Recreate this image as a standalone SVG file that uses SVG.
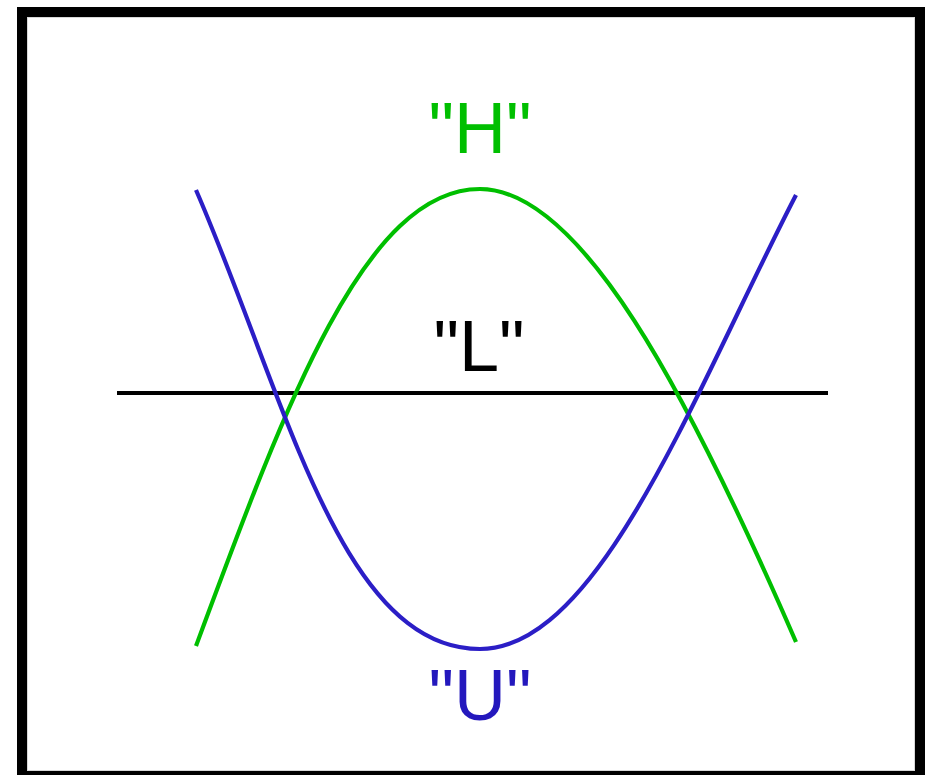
<svg xmlns="http://www.w3.org/2000/svg" width="930" height="775" viewBox="0 0 930 775">
<style>
.curve{fill:none;stroke-width:4.2;stroke-linecap:butt}
.lbl{font-family:"Liberation Sans",Arial,sans-serif;font-size:72px;text-anchor:middle}
</style>
<rect x="0" y="0" width="930" height="775" fill="#ffffff"/>
<g id="frame">
<rect x="22" y="12" width="898" height="764" fill="none" stroke="#000" stroke-width="10"/>
<rect x="27.5" y="17.5" width="887" height="753" fill="none" stroke="#d8d8d8" stroke-width="1"/>
</g>
<g id="connectors">
<path id="line-L" d="M117,393 H828" stroke="#000" stroke-width="4.2" fill="none"/>
<path id="curve-H" class="curve" stroke="#00bf00" d="M196,646 C286,403 365,189 480,189 C580,189 686,389 796,642"/>
<path id="curve-U" class="curve" stroke="#2b1ec6" d="M196,190 C286,397 340,649 480,649 C600,649 696,388 796,195"/>
</g>
<g id="label-H"><text class="lbl" x="480" y="153" fill="#00bf00">"H"</text></g>
<g id="label-L"><text class="lbl" x="479" y="371" fill="#000">"L"</text></g>
<g id="label-U"><text class="lbl" x="480" y="720" fill="#2418bd">"U"</text></g>
</svg>
